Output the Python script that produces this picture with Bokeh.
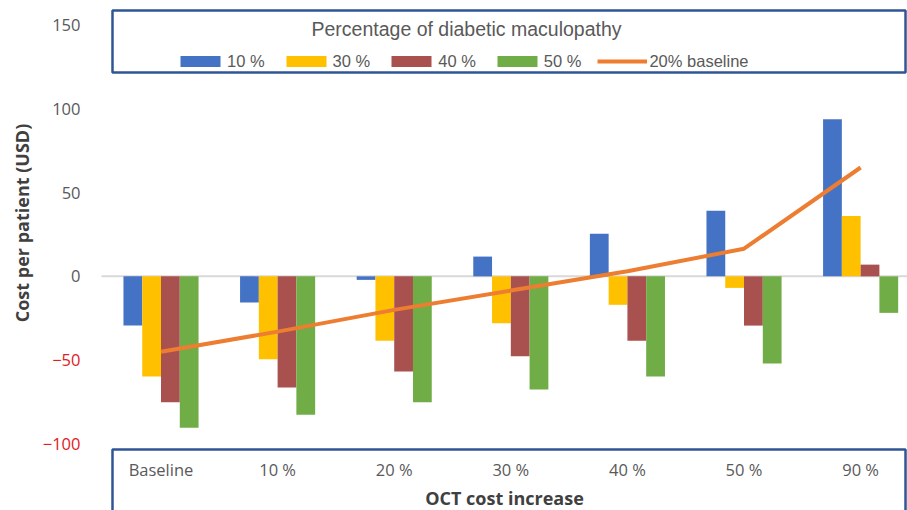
import numpy as np
from bokeh.plotting import figure
from bokeh.models import (Range1d, LinearAxis, FixedTicker, BoxAnnotation, Label,
                          Legend, LegendItem, Grid)
from bokeh.embed import file_html
from bokeh.resources import INLINE

# ---------------- data ----------------
categories = ["Baseline", "10 %", "20 %", "30 %", "40 %", "50 %", "90 %"]
series_names = ["10 %", "30 %", "40 %", "50 %"]
dm10 = [-29.4, -15.6, -2.1, 11.8, 25.4, 39.1, 93.8]
dm30 = [-59.8, -49.5, -38.5, -28.0, -17.0, -6.9, 36.1]
dm40 = [-75.2, -66.4, -56.8, -47.7, -38.5, -29.4, 7.0]
dm50 = [-90.4, -82.7, -75.2, -67.6, -59.8, -52.1, -21.8]
line_name = "20% baseline"
baseline20 = [-45.0, -33.0, -20.0, -8.5, 3.0, 16.5, 65.0]
y_ticks_pos = [0, 50, 100, 150]
y_ticks_neg = [-100, -50]
legend_title = "Percentage of diabetic maculopathy"
x_title = "OCT cost increase"
y_title = "Cost per patient (USD)"

# ---------------- styles ----------------
bar_colors = ["#4472C4", "#FFC000", "#A9514F", "#70AD47"]
line_color = "#ED7D31"
box_color = "#2F5597"
gray_text = "#595959"
dark_text = "#404040"
red_text = "#E0201E"
tick_font = "Open Sans"
legend_font = "Liberation Sans"

# frame covers whole canvas; chart area starts at CX0
X0, X1 = -1.3765, 6.402
CX0 = -0.5103
Y0, Y1 = -139.8, 164.7
Y_AXIS = -103.4

p = figure(width=907, height=510, output_backend="svg", toolbar_location=None,
           x_range=Range1d(X0, X1), y_range=Range1d(Y0, Y1),
           x_axis_location=None, y_axis_location=None,
           min_border_left=0, min_border_right=0, min_border_top=0, min_border_bottom=0)
p.outline_line_color = None
p.background_fill_color = "white"
p.border_fill_color = "white"
p.center = [r for r in p.center if not isinstance(r, Grid)]

# zero line
p.segment(x0=[CX0], x1=[X1], y0=[0], y1=[0], line_color="#D9D9D9", line_width=2)

# bars
idx = np.arange(len(categories))
bw = 0.161
renderers = []
for k, (vals, c) in enumerate(zip([dm10, dm30, dm40, dm50], bar_colors)):
    r = p.vbar(x=idx + (k - 1.5) * bw, top=vals, bottom=0, width=bw,
               fill_color=c, line_color=None)
    renderers.append(r)

ln = p.line(idx, baseline20, line_color=line_color, line_width=4,
            line_cap="butt", line_join="round")

# y axes (gray positives, red negatives)
common_y = dict(fixed_location=CX0, bounds=(-101, Y1), axis_line_color=None,
                major_tick_line_color=None, minor_tick_line_color=None,
                major_tick_in=0, major_tick_out=0, minor_tick_in=0, minor_tick_out=0,
                major_label_standoff=21, major_label_text_font=tick_font,
                major_label_text_font_size="16.5px")
ax_pos = LinearAxis(ticker=FixedTicker(ticks=y_ticks_pos), major_label_text_color=gray_text,
                    axis_label=y_title, axis_label_text_font=tick_font,
                    axis_label_text_font_style="bold", axis_label_text_font_size="18px",
                    axis_label_text_color=dark_text, axis_label_standoff=15, **common_y)
ax_neg = LinearAxis(ticker=FixedTicker(ticks=y_ticks_neg), major_label_text_color=red_text,
                    **common_y)
p.add_layout(ax_pos, "left")
p.add_layout(ax_neg, "left")

# x axis
ax_x = LinearAxis(ticker=FixedTicker(ticks=list(range(len(categories)))),
                  major_label_overrides={i: c for i, c in enumerate(categories)},
                  fixed_location=Y_AXIS, bounds=(CX0, X1), axis_line_color=None,
                  major_tick_line_color=None, minor_tick_line_color=None,
                  major_tick_in=0, major_tick_out=0, minor_tick_in=0, minor_tick_out=0,
                  major_label_standoff=8, major_label_text_font=tick_font,
                  major_label_text_font_size="16.5px", major_label_text_color=gray_text,
                  axis_label=x_title, axis_label_text_font=tick_font,
                  axis_label_text_font_style="bold", axis_label_text_font_size="18px",
                  axis_label_text_color=dark_text, axis_label_standoff=2)
p.add_layout(ax_x, "below")

# boxes
BL, BR = -0.416, 6.385
p.add_layout(BoxAnnotation(left=BL, right=BR, top=158.7, bottom=121.7,
                           fill_color=None, fill_alpha=0, line_alpha=1,
                           line_color=box_color, line_width=2.5, level="overlay"))
p.add_layout(BoxAnnotation(left=BL, right=BR, top=Y_AXIS, bottom=-170,
                           fill_color=None, fill_alpha=0, line_alpha=1,
                           line_color=box_color, line_width=2.5, level="overlay"))

p.add_layout(Label(x=2.62, y=147.8, text=legend_title, text_align="center",
                   text_baseline="alphabetic", text_font=legend_font,
                   text_font_size="19.5px", text_color=gray_text))

items = [LegendItem(label=n, renderers=[r]) for n, r in zip(series_names, renderers)]
items.append(LegendItem(label=line_name, renderers=[ln]))
legend = Legend(items=items, orientation="horizontal", location=(175, 439),
                padding=0, margin=0, spacing=16, glyph_width=50, glyph_height=14,
                label_standoff=2, label_height=20, label_text_font=legend_font,
                label_text_font_size="16.5px", label_text_color=gray_text,
                border_line_color=None, background_fill_alpha=0)
p.add_layout(legend, "center")

open("out.html", "w").write(file_html(p, INLINE))
